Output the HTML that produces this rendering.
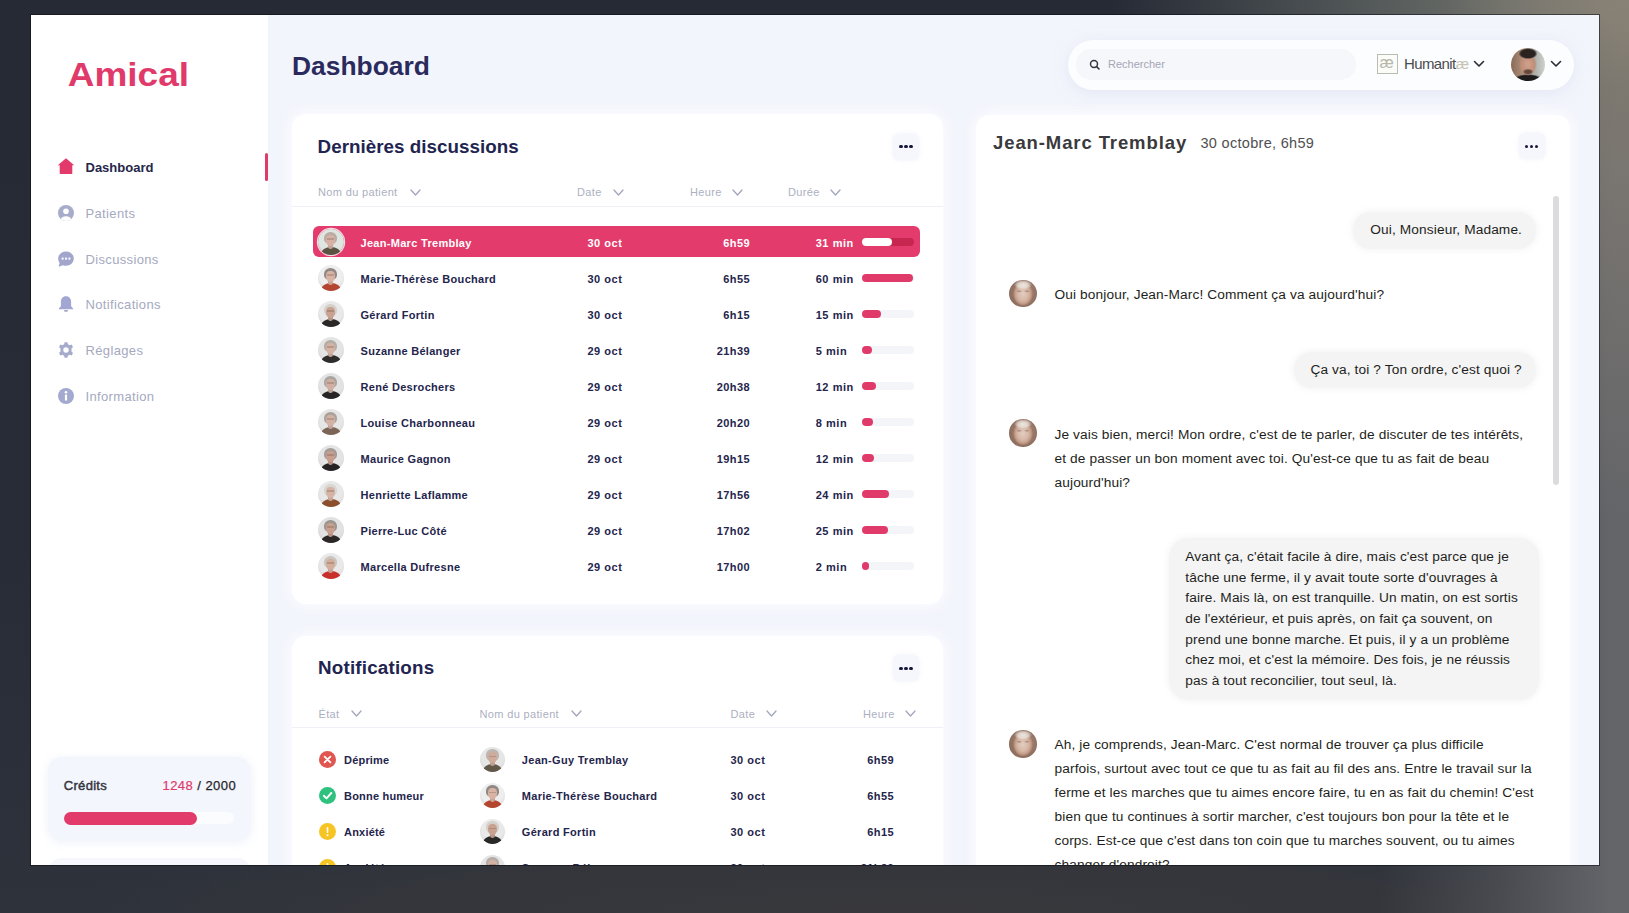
<!DOCTYPE html>
<html><head><meta charset="utf-8">
<style>
*{box-sizing:border-box;margin:0;padding:0}
html,body{width:1629px;height:913px;overflow:hidden}
body{font-family:"Liberation Sans",sans-serif;position:relative;
background:#262b36;}
.bg{position:absolute;left:0;top:0;width:1629px;height:913px;
background:
radial-gradient(ellipse 180px 520px at 1629px 0px, rgba(138,130,118,0.85), rgba(138,130,118,0) 100%),
radial-gradient(ellipse 520px 170px at 1629px 0px, rgba(128,126,117,1), rgba(92,98,96,0.85) 50%, rgba(60,65,75,0) 100%),
linear-gradient(90deg, rgba(98,99,103,0) 0px, rgba(98,99,103,0) 1380px, rgba(92,93,98,0.55) 1500px, rgba(100,101,105,1) 1610px),
radial-gradient(ellipse 850px 95px at 900px 913px, rgba(56,56,60,1), rgba(56,56,60,0.65) 60%, rgba(56,56,60,0) 100%),
linear-gradient(180deg,#252a35 0%,#272c37 60%,#2d323b 100%);}
.frame{position:absolute;left:31px;top:15px;width:1568px;height:850px;overflow:hidden;background:#f3f5fc;box-shadow:0 0 0 1px rgba(10,13,20,0.55)}
.pg{position:absolute;left:-31px;top:-15px;width:1629px;height:913px}
.abs{position:absolute}
.side{position:absolute;left:31px;top:15px;width:237px;height:850px;background:#fff}
.logo{position:absolute;left:67px;top:55px;line-height:40px;font-weight:bold;font-size:34px;color:#e03a6b;letter-spacing:2.2px}
.nav{position:absolute;left:85.5px;font-size:13px;color:#a5a9c0;letter-spacing:0.35px}
.nav.act{color:#25264a;font-weight:bold;letter-spacing:0}
.ico{position:absolute;left:57px;width:17px;height:17px}
.card{position:absolute;background:#fff;border-radius:14px;box-shadow:0 0 12px 3px rgba(252,252,255,0.95)}
.h2{position:absolute;font-weight:bold;font-size:19px;color:#25264f}
.th{position:absolute;font-size:11px;color:#a9acc4}
.chev{position:absolute;width:9px;height:6px}
.row{position:absolute;font-size:12px;font-weight:bold;color:#2c2d58}
.dots{position:absolute;width:27px;height:27px;border-radius:8px;background:#f6f7fb}
.dots i{position:absolute;top:12px;width:3.4px;height:3.4px;border-radius:50%;background:#1e1f3f}
.chat{font-size:14px;color:#1f1f22}
</style></head>
<body>
<div class="bg"></div>
<div class="frame"><div class="pg">
  <div class="side"></div>
  <svg class="abs" style="left:0;top:0" width="300" height="120"><text x="67.8" y="86" font-family="Liberation Sans" font-weight="bold" font-size="32.5" fill="#e03a6b" textLength="121.2" lengthAdjust="spacingAndGlyphs">Amical</text></svg>
  <div class="abs" style="left:265px;top:153px;width:3px;height:28px;background:#e03a6b;border-radius:2px"></div>

  <div class="abs" style="left:292px;top:51px;font-weight:bold;font-size:26.4px;color:#2a2b5c">Dashboard</div>


  <!-- NAV -->
  <svg class="abs" style="left:57px;top:157px" width="18" height="18" viewBox="0 0 18 18"><path d="M9 1.2 L17.2 8.2 L15.3 8.2 L15.3 16.3 Q15.3 17 14.6 17 L3.4 17 Q2.7 17 2.7 16.3 L2.7 8.2 L0.8 8.2 Z" fill="#e23a6b"/></svg>
  <div class="nav act" style="top:160px">Dashboard</div>
  <svg class="abs" style="left:58px;top:204.6px" width="16" height="16" viewBox="0 0 16 16"><defs><clipPath id="cp1"><circle cx="8" cy="8" r="8"/></clipPath></defs><circle cx="8" cy="8" r="8" fill="#a7acca"/><g clip-path="url(#cp1)" fill="#fff"><circle cx="8" cy="6.2" r="2.8"/><ellipse cx="8" cy="15.5" rx="5.6" ry="4.2"/></g></svg>
  <div class="nav" style="top:205.8px">Patients</div>
  <svg class="abs" style="left:58px;top:250.5px" width="16" height="16" viewBox="0 0 16 16"><path d="M8 0.4 C12.4 0.4 15.8 3.5 15.8 7.6 C15.8 11.7 12.4 14.8 8 14.8 C6.9 14.8 5.8 14.6 4.9 14.2 L1.4 15.6 Q0.6 15.8 0.8 15 L1.6 12 C0.7 10.8 0.2 9.3 0.2 7.6 C0.2 3.5 3.6 0.4 8 0.4Z" fill="#a2a6cd"/><rect x="3.6" y="6.6" width="2" height="2" fill="#fff"/><rect x="7" y="6.6" width="2" height="2" fill="#fff"/><rect x="10.4" y="6.6" width="2" height="2" fill="#fff"/></svg>
  <div class="nav" style="top:251.8px">Discussions</div>
  <svg class="abs" style="left:58px;top:296px" width="16" height="16" viewBox="0 0 16 16"><path d="M8 0.3 C4.6 0.3 2.9 2.8 2.9 5.8 L2.9 9.6 C2.9 10.6 2.2 11.4 1.2 12 Q0.7 12.4 0.9 12.9 Q1.1 13.3 1.7 13.3 L14.3 13.3 Q14.9 13.3 15.1 12.9 Q15.3 12.4 14.8 12 C13.8 11.4 13.1 10.6 13.1 9.6 L13.1 5.8 C13.1 2.8 11.4 0.3 8 0.3Z" fill="#a2a6d2"/><path d="M5.8 14 A2.2 2 0 0 0 10.2 14Z" fill="#a9adc8"/></svg>
  <div class="nav" style="top:297.3px">Notifications</div>
  <svg class="abs" style="left:58px;top:342px" width="16" height="16" viewBox="0 0 16 16"><path fill="#a6aacb" fill-rule="evenodd" d="M6.6 0.3 L9.4 0.3 L9.9 2.3 L11.6 3.2 L13.6 2.6 L15 5 L13.5 6.5 L13.5 9.5 L15 11 L13.6 13.4 L11.6 12.8 L9.9 13.7 L9.4 15.7 L6.6 15.7 L6.1 13.7 L4.4 12.8 L2.4 13.4 L1 11 L2.5 9.5 L2.5 6.5 L1 5 L2.4 2.6 L4.4 3.2 L6.1 2.3 Z M8 5.3 A2.7 2.7 0 1 0 8 10.7 A2.7 2.7 0 1 0 8 5.3Z"/></svg>
  <div class="nav" style="top:342.6px">Réglages</div>
  <svg class="abs" style="left:58px;top:387.8px" width="16" height="16" viewBox="0 0 16 16"><circle cx="8" cy="8" r="8" fill="#a4a9cf"/><rect x="6.9" y="6.6" width="2.2" height="6" rx="0.5" fill="#fff"/><circle cx="8" cy="4.3" r="1.3" fill="#fff"/></svg>
  <div class="nav" style="top:388.6px">Information</div>

  <!-- credits -->
  <div class="abs" style="left:48px;top:757px;width:203px;height:83px;border-radius:14px;background:#f3f6fc;box-shadow:0 2px 10px rgba(225,230,245,0.6)"></div>
  <div class="abs" style="left:63.8px;top:778px;font-size:13px;color:#33353f;-webkit-text-stroke:0.45px #33353f;letter-spacing:0.3px">Crédits</div>
  <div class="abs" style="left:162.5px;top:778px;font-size:13px;color:#24252d;letter-spacing:0.45px;-webkit-text-stroke:0.25px #24252d"><span style="color:#e03a6b;-webkit-text-stroke:0.2px #e03a6b">1248</span> / 2000</div>
  <div class="abs" style="left:64px;top:812px;width:170px;height:12px;border-radius:6px;background:#fbfcfe"></div>
  <div class="abs" style="left:64px;top:812px;width:133px;height:12.5px;border-radius:6.5px;background:#e23a6b"></div>
  <div class="abs" style="left:48px;top:858px;width:203px;height:40px;border-radius:14px;background:#f5f7fc"></div>

  <!-- header -->
  <div class="abs" style="left:1068px;top:40px;width:506px;height:50px;border-radius:25px;background:#fcfdfe;box-shadow:0 3px 14px rgba(215,220,238,0.55)"></div>
  <div class="abs" style="left:1076px;top:49px;width:280px;height:31px;border-radius:15px;background:#f6f7fb"></div>
  <svg class="abs" style="left:1089px;top:58.5px" width="12" height="12" viewBox="0 0 12 12"><circle cx="5" cy="5" r="3.5" fill="none" stroke="#34353f" stroke-width="1.45"/><path d="M7.6 7.6 L10 10" stroke="#34353f" stroke-width="1.6" stroke-linecap="round"/></svg>
  <div class="abs" style="left:1108px;top:58px;font-size:11px;color:#a3a6b3">Rechercher</div>
  <div class="abs" style="left:1376.5px;top:54.3px;width:21px;height:19.5px;border:1.3px solid #b9bbb4;background:#fbfbf8"></div>
  <div class="abs" style="left:1379.5px;top:54px;font-size:16px;color:#b5b7aa;">æ</div>
  <div class="abs" style="left:1404px;top:55px;font-size:15px;color:#4a4b4e;letter-spacing:-0.6px">Humanit<span style="color:#c8c4b4;">æ</span></div>
  <svg class="abs" style="left:1473px;top:60px" width="12" height="8" viewBox="0 0 12 8"><path d="M1.5 1.5 L6 6 L10.5 1.5" fill="none" stroke="#2a2b34" stroke-width="1.6" stroke-linecap="round" stroke-linejoin="round"/></svg>
  <div class="abs" style="left:1511px;top:47.5px;width:33.5px;height:33.5px;border-radius:50%;overflow:hidden;background:radial-gradient(ellipse 9.5px 5.5px at 50% 17%,#2b2320 0%,#2b2320 75%,rgba(43,35,32,0) 100%),radial-gradient(ellipse 5.5px 3px at 50% 72%,#5e4238 0%,#6e4c40 60%,rgba(110,76,64,0) 100%),radial-gradient(ellipse 9px 11.5px at 50% 50%,#d0a28c 0%,#c08e78 75%,rgba(160,110,90,0) 100%),radial-gradient(ellipse 16px 7px at 50% 100%,#1d1b1b 0%,#1d1b1b 80%,rgba(29,27,27,0) 100%),linear-gradient(90deg,#8a6a56 0%,#a88a76 30%,#aeb0ac 70%,#cfd1cd 100%)"></div>
  <svg class="abs" style="left:1550px;top:60px" width="12" height="8" viewBox="0 0 12 8"><path d="M1.5 1.5 L6 6 L10.5 1.5" fill="none" stroke="#2a2b34" stroke-width="1.6" stroke-linecap="round" stroke-linejoin="round"/></svg>

<div class="card" style="left:292px;top:114px;width:651px;height:490px"></div>
<div class="abs" style="left:317.6px;top:134.8px;line-height:24px;font-weight:bold;font-size:18.8px;color:#222450;letter-spacing:0.03px">Dernières discussions</div>
<div class="abs" style="left:893px;top:133.5px;width:26px;height:26px;border-radius:6px;background:#f6f7fc;box-shadow:0 0 4px rgba(235,237,246,0.8)"></div>
<div class="abs" style="left:899.4px;top:145.1px;width:3.2px;height:3.2px;border-radius:50%;background:#16173a"></div>
<div class="abs" style="left:904.4px;top:145.1px;width:3.2px;height:3.2px;border-radius:50%;background:#16173a"></div>
<div class="abs" style="left:909.4px;top:145.1px;width:3.2px;height:3.2px;border-radius:50%;background:#16173a"></div>
<div class="abs th" style="left:318px;top:186px;font-size:11px;color:#acafc1;letter-spacing:0.35px">Nom du patient</div>
<svg class="abs" style="left:410px;top:188.5px" width="11" height="7" viewBox="0 0 11 7"><path d="M1 1 L5.5 6 L10 1" fill="none" stroke="#a3a6bb" stroke-width="1.3" stroke-linecap="round" stroke-linejoin="round"/></svg>
<div class="abs th" style="left:577px;top:186px;font-size:11px;color:#acafc1;letter-spacing:0.35px">Date</div>
<svg class="abs" style="left:613px;top:188.5px" width="11" height="7" viewBox="0 0 11 7"><path d="M1 1 L5.5 6 L10 1" fill="none" stroke="#a3a6bb" stroke-width="1.3" stroke-linecap="round" stroke-linejoin="round"/></svg>
<div class="abs th" style="left:690px;top:186px;font-size:11px;color:#acafc1;letter-spacing:0.35px">Heure</div>
<svg class="abs" style="left:732px;top:188.5px" width="11" height="7" viewBox="0 0 11 7"><path d="M1 1 L5.5 6 L10 1" fill="none" stroke="#a3a6bb" stroke-width="1.3" stroke-linecap="round" stroke-linejoin="round"/></svg>
<div class="abs th" style="left:788px;top:186px;font-size:11px;color:#acafc1;letter-spacing:0.35px">Durée</div>
<svg class="abs" style="left:830px;top:188.5px" width="11" height="7" viewBox="0 0 11 7"><path d="M1 1 L5.5 6 L10 1" fill="none" stroke="#a3a6bb" stroke-width="1.3" stroke-linecap="round" stroke-linejoin="round"/></svg>
<div class="abs" style="left:292px;top:205.5px;width:651px;height:1px;background:#eff0f5"></div>
<div class="abs" style="left:312.5px;top:226.39999999999998px;width:607.5px;height:31px;border-radius:6px;background:#e33b6c"></div>
<div class="abs" style="left:317.6px;top:229.2px;width:26px;height:26px;border-radius:50%;overflow:hidden;background:radial-gradient(circle at 50% 40%,#dfe6e2 55%,#c9c9c9 100%);box-shadow:0 0 0 1.2px #f6dbe3;"><div style="position:absolute;left:3.0px;top:18.0px;width:20.0px;height:14.0px;border-radius:50% 50% 0 0;background:#5b5241"></div><div style="position:absolute;left:10.5px;top:14.0px;width:5.0px;height:6.0px;border-radius:0 0 50% 50%;background:#d7b2a4;filter:brightness(0.92)"></div><div style="position:absolute;left:6.6px;top:2.6px;width:12.8px;height:12.0px;border-radius:50% 50% 42% 42%;background:#b9aca4"></div><div style="position:absolute;left:8.3px;top:5.6px;width:9.4px;height:11.2px;border-radius:42% 42% 50% 50%;background:radial-gradient(ellipse at 50% 40%,#d7b2a4 50%,rgba(0,0,0,0.0) 100%),#d7b2a4"></div><div style="position:absolute;left:9.8px;top:9.2px;width:6.4px;height:1.2px;background:rgba(90,70,60,0.25)"></div></div>
<div class="abs" style="left:360.5px;top:237.09999999999997px;font-size:11px;font-weight:bold;color:#ffffff;letter-spacing:0.3px">Jean-Marc Tremblay</div>
<div class="abs" style="left:587.5px;top:237.09999999999997px;font-size:11px;font-weight:bold;color:#ffffff;letter-spacing:0.5px">30 oct</div>
<div class="abs" style="left:650px;width:100px;text-align:right;top:237.09999999999997px;font-size:11px;font-weight:bold;color:#ffffff;letter-spacing:0.4px">6h59</div>
<div class="abs" style="left:815.7px;top:237.09999999999997px;font-size:11px;font-weight:bold;color:#ffffff;letter-spacing:0.55px">31 min</div>
<div class="abs" style="left:862px;top:238.39999999999998px;width:51.5px;height:7.5px;border-radius:4px;background:#c62650"></div>
<div class="abs" style="left:862px;top:238.39999999999998px;width:30px;height:7.5px;border-radius:4px;background:#ffffff"></div>
<div class="abs" style="left:317.6px;top:265.2px;width:26px;height:26px;border-radius:50%;overflow:hidden;background:radial-gradient(circle at 50% 40%,#efeeee 55%,#c9c9c9 100%);"><div style="position:absolute;left:3.0px;top:18.0px;width:20.0px;height:14.0px;border-radius:50% 50% 0 0;background:#b4452f"></div><div style="position:absolute;left:10.5px;top:14.0px;width:5.0px;height:6.0px;border-radius:0 0 50% 50%;background:#d9b3a3;filter:brightness(0.92)"></div><div style="position:absolute;left:6.6px;top:2.6px;width:12.8px;height:12.0px;border-radius:50% 50% 42% 42%;background:#8f8884"></div><div style="position:absolute;left:8.3px;top:5.6px;width:9.4px;height:11.2px;border-radius:42% 42% 50% 50%;background:radial-gradient(ellipse at 50% 40%,#d9b3a3 50%,rgba(0,0,0,0.0) 100%),#d9b3a3"></div><div style="position:absolute;left:9.8px;top:9.2px;width:6.4px;height:1.2px;background:rgba(90,70,60,0.25)"></div></div>
<div class="abs" style="left:360.5px;top:273.09999999999997px;font-size:11px;font-weight:bold;color:#24254c;letter-spacing:0.3px">Marie-Thérèse Bouchard</div>
<div class="abs" style="left:587.5px;top:273.09999999999997px;font-size:11px;font-weight:bold;color:#24254c;letter-spacing:0.5px">30 oct</div>
<div class="abs" style="left:650px;width:100px;text-align:right;top:273.09999999999997px;font-size:11px;font-weight:bold;color:#24254c;letter-spacing:0.4px">6h55</div>
<div class="abs" style="left:815.7px;top:273.09999999999997px;font-size:11px;font-weight:bold;color:#24254c;letter-spacing:0.55px">60 min</div>
<div class="abs" style="left:862px;top:274.4px;width:51.5px;height:7.5px;border-radius:4px;background:#f4f5f9"></div>
<div class="abs" style="left:862px;top:274.4px;width:51px;height:7.5px;border-radius:4px;background:#e03a6a"></div>
<div class="abs" style="left:317.6px;top:301.2px;width:26px;height:26px;border-radius:50%;overflow:hidden;background:radial-gradient(circle at 50% 40%,#e9e9e9 55%,#c9c9c9 100%);"><div style="position:absolute;left:3.0px;top:18.0px;width:20.0px;height:14.0px;border-radius:50% 50% 0 0;background:#2a2827"></div><div style="position:absolute;left:10.5px;top:14.0px;width:5.0px;height:6.0px;border-radius:0 0 50% 50%;background:#c9a291;filter:brightness(0.92)"></div><div style="position:absolute;left:6.6px;top:2.6px;width:12.8px;height:12.0px;border-radius:50% 50% 42% 42%;background:#d4d0cc"></div><div style="position:absolute;left:8.3px;top:5.6px;width:9.4px;height:11.2px;border-radius:42% 42% 50% 50%;background:radial-gradient(ellipse at 50% 40%,#c9a291 50%,rgba(0,0,0,0.0) 100%),#c9a291"></div><div style="position:absolute;left:9.8px;top:9.2px;width:6.4px;height:1.2px;background:rgba(90,70,60,0.25)"></div></div>
<div class="abs" style="left:360.5px;top:309.09999999999997px;font-size:11px;font-weight:bold;color:#24254c;letter-spacing:0.3px">Gérard Fortin</div>
<div class="abs" style="left:587.5px;top:309.09999999999997px;font-size:11px;font-weight:bold;color:#24254c;letter-spacing:0.5px">30 oct</div>
<div class="abs" style="left:650px;width:100px;text-align:right;top:309.09999999999997px;font-size:11px;font-weight:bold;color:#24254c;letter-spacing:0.4px">6h15</div>
<div class="abs" style="left:815.7px;top:309.09999999999997px;font-size:11px;font-weight:bold;color:#24254c;letter-spacing:0.55px">15 min</div>
<div class="abs" style="left:862px;top:310.4px;width:51.5px;height:7.5px;border-radius:4px;background:#f4f5f9"></div>
<div class="abs" style="left:862px;top:310.4px;width:19px;height:7.5px;border-radius:4px;background:#e03a6a"></div>
<div class="abs" style="left:317.6px;top:337.2px;width:26px;height:26px;border-radius:50%;overflow:hidden;background:radial-gradient(circle at 50% 40%,#e4e4e4 55%,#c9c9c9 100%);"><div style="position:absolute;left:3.0px;top:18.0px;width:20.0px;height:14.0px;border-radius:50% 50% 0 0;background:#2f2d2c"></div><div style="position:absolute;left:10.5px;top:14.0px;width:5.0px;height:6.0px;border-radius:0 0 50% 50%;background:#d4b3a5;filter:brightness(0.92)"></div><div style="position:absolute;left:6.6px;top:2.6px;width:12.8px;height:12.0px;border-radius:50% 50% 42% 42%;background:#b3ada6"></div><div style="position:absolute;left:8.3px;top:5.6px;width:9.4px;height:11.2px;border-radius:42% 42% 50% 50%;background:radial-gradient(ellipse at 50% 40%,#d4b3a5 50%,rgba(0,0,0,0.0) 100%),#d4b3a5"></div><div style="position:absolute;left:9.8px;top:9.2px;width:6.4px;height:1.2px;background:rgba(90,70,60,0.25)"></div></div>
<div class="abs" style="left:360.5px;top:345.09999999999997px;font-size:11px;font-weight:bold;color:#24254c;letter-spacing:0.3px">Suzanne Bélanger</div>
<div class="abs" style="left:587.5px;top:345.09999999999997px;font-size:11px;font-weight:bold;color:#24254c;letter-spacing:0.5px">29 oct</div>
<div class="abs" style="left:650px;width:100px;text-align:right;top:345.09999999999997px;font-size:11px;font-weight:bold;color:#24254c;letter-spacing:0.4px">21h39</div>
<div class="abs" style="left:815.7px;top:345.09999999999997px;font-size:11px;font-weight:bold;color:#24254c;letter-spacing:0.55px">5 min</div>
<div class="abs" style="left:862px;top:346.4px;width:51.5px;height:7.5px;border-radius:4px;background:#f4f5f9"></div>
<div class="abs" style="left:862px;top:346.4px;width:9.5px;height:7.5px;border-radius:4px;background:#e03a6a"></div>
<div class="abs" style="left:317.6px;top:373.2px;width:26px;height:26px;border-radius:50%;overflow:hidden;background:radial-gradient(circle at 50% 40%,#e3e3e3 55%,#c9c9c9 100%);"><div style="position:absolute;left:3.0px;top:18.0px;width:20.0px;height:14.0px;border-radius:50% 50% 0 0;background:#262424"></div><div style="position:absolute;left:10.5px;top:14.0px;width:5.0px;height:6.0px;border-radius:0 0 50% 50%;background:#d0afa2;filter:brightness(0.92)"></div><div style="position:absolute;left:6.6px;top:2.6px;width:12.8px;height:12.0px;border-radius:50% 50% 42% 42%;background:#a9a5a2"></div><div style="position:absolute;left:8.3px;top:5.6px;width:9.4px;height:11.2px;border-radius:42% 42% 50% 50%;background:radial-gradient(ellipse at 50% 40%,#d0afa2 50%,rgba(0,0,0,0.0) 100%),#d0afa2"></div><div style="position:absolute;left:9.8px;top:9.2px;width:6.4px;height:1.2px;background:rgba(90,70,60,0.25)"></div></div>
<div class="abs" style="left:360.5px;top:381.09999999999997px;font-size:11px;font-weight:bold;color:#24254c;letter-spacing:0.3px">René Desrochers</div>
<div class="abs" style="left:587.5px;top:381.09999999999997px;font-size:11px;font-weight:bold;color:#24254c;letter-spacing:0.5px">29 oct</div>
<div class="abs" style="left:650px;width:100px;text-align:right;top:381.09999999999997px;font-size:11px;font-weight:bold;color:#24254c;letter-spacing:0.4px">20h38</div>
<div class="abs" style="left:815.7px;top:381.09999999999997px;font-size:11px;font-weight:bold;color:#24254c;letter-spacing:0.55px">12 min</div>
<div class="abs" style="left:862px;top:382.4px;width:51.5px;height:7.5px;border-radius:4px;background:#f4f5f9"></div>
<div class="abs" style="left:862px;top:382.4px;width:14px;height:7.5px;border-radius:4px;background:#e03a6a"></div>
<div class="abs" style="left:317.6px;top:409.2px;width:26px;height:26px;border-radius:50%;overflow:hidden;background:radial-gradient(circle at 50% 40%,#e6e6e6 55%,#c9c9c9 100%);"><div style="position:absolute;left:3.0px;top:18.0px;width:20.0px;height:14.0px;border-radius:50% 50% 0 0;background:#7c6557"></div><div style="position:absolute;left:10.5px;top:14.0px;width:5.0px;height:6.0px;border-radius:0 0 50% 50%;background:#d3b2a6;filter:brightness(0.92)"></div><div style="position:absolute;left:6.6px;top:2.6px;width:12.8px;height:12.0px;border-radius:50% 50% 42% 42%;background:#aaa39c"></div><div style="position:absolute;left:8.3px;top:5.6px;width:9.4px;height:11.2px;border-radius:42% 42% 50% 50%;background:radial-gradient(ellipse at 50% 40%,#d3b2a6 50%,rgba(0,0,0,0.0) 100%),#d3b2a6"></div><div style="position:absolute;left:9.8px;top:9.2px;width:6.4px;height:1.2px;background:rgba(90,70,60,0.25)"></div></div>
<div class="abs" style="left:360.5px;top:417.09999999999997px;font-size:11px;font-weight:bold;color:#24254c;letter-spacing:0.3px">Louise Charbonneau</div>
<div class="abs" style="left:587.5px;top:417.09999999999997px;font-size:11px;font-weight:bold;color:#24254c;letter-spacing:0.5px">29 oct</div>
<div class="abs" style="left:650px;width:100px;text-align:right;top:417.09999999999997px;font-size:11px;font-weight:bold;color:#24254c;letter-spacing:0.4px">20h20</div>
<div class="abs" style="left:815.7px;top:417.09999999999997px;font-size:11px;font-weight:bold;color:#24254c;letter-spacing:0.55px">8 min</div>
<div class="abs" style="left:862px;top:418.4px;width:51.5px;height:7.5px;border-radius:4px;background:#f4f5f9"></div>
<div class="abs" style="left:862px;top:418.4px;width:11px;height:7.5px;border-radius:4px;background:#e03a6a"></div>
<div class="abs" style="left:317.6px;top:445.2px;width:26px;height:26px;border-radius:50%;overflow:hidden;background:radial-gradient(circle at 50% 40%,#e4e4e4 55%,#c9c9c9 100%);"><div style="position:absolute;left:3.0px;top:18.0px;width:20.0px;height:14.0px;border-radius:50% 50% 0 0;background:#262324"></div><div style="position:absolute;left:10.5px;top:14.0px;width:5.0px;height:6.0px;border-radius:0 0 50% 50%;background:#c79e8f;filter:brightness(0.92)"></div><div style="position:absolute;left:6.6px;top:2.6px;width:12.8px;height:12.0px;border-radius:50% 50% 42% 42%;background:#a29c98"></div><div style="position:absolute;left:8.3px;top:5.6px;width:9.4px;height:11.2px;border-radius:42% 42% 50% 50%;background:radial-gradient(ellipse at 50% 40%,#c79e8f 50%,rgba(0,0,0,0.0) 100%),#c79e8f"></div><div style="position:absolute;left:9.8px;top:9.2px;width:6.4px;height:1.2px;background:rgba(90,70,60,0.25)"></div></div>
<div class="abs" style="left:360.5px;top:453.09999999999997px;font-size:11px;font-weight:bold;color:#24254c;letter-spacing:0.3px">Maurice Gagnon</div>
<div class="abs" style="left:587.5px;top:453.09999999999997px;font-size:11px;font-weight:bold;color:#24254c;letter-spacing:0.5px">29 oct</div>
<div class="abs" style="left:650px;width:100px;text-align:right;top:453.09999999999997px;font-size:11px;font-weight:bold;color:#24254c;letter-spacing:0.4px">19h15</div>
<div class="abs" style="left:815.7px;top:453.09999999999997px;font-size:11px;font-weight:bold;color:#24254c;letter-spacing:0.55px">12 min</div>
<div class="abs" style="left:862px;top:454.4px;width:51.5px;height:7.5px;border-radius:4px;background:#f4f5f9"></div>
<div class="abs" style="left:862px;top:454.4px;width:12px;height:7.5px;border-radius:4px;background:#e03a6a"></div>
<div class="abs" style="left:317.6px;top:481.2px;width:26px;height:26px;border-radius:50%;overflow:hidden;background:radial-gradient(circle at 50% 40%,#e8e8e8 55%,#c9c9c9 100%);"><div style="position:absolute;left:3.0px;top:18.0px;width:20.0px;height:14.0px;border-radius:50% 50% 0 0;background:#8c4f2c"></div><div style="position:absolute;left:10.5px;top:14.0px;width:5.0px;height:6.0px;border-radius:0 0 50% 50%;background:#d6b4a5;filter:brightness(0.92)"></div><div style="position:absolute;left:6.6px;top:2.6px;width:12.8px;height:12.0px;border-radius:50% 50% 42% 42%;background:#d8d6d3"></div><div style="position:absolute;left:8.3px;top:5.6px;width:9.4px;height:11.2px;border-radius:42% 42% 50% 50%;background:radial-gradient(ellipse at 50% 40%,#d6b4a5 50%,rgba(0,0,0,0.0) 100%),#d6b4a5"></div><div style="position:absolute;left:9.8px;top:9.2px;width:6.4px;height:1.2px;background:rgba(90,70,60,0.25)"></div></div>
<div class="abs" style="left:360.5px;top:489.09999999999997px;font-size:11px;font-weight:bold;color:#24254c;letter-spacing:0.3px">Henriette Laflamme</div>
<div class="abs" style="left:587.5px;top:489.09999999999997px;font-size:11px;font-weight:bold;color:#24254c;letter-spacing:0.5px">29 oct</div>
<div class="abs" style="left:650px;width:100px;text-align:right;top:489.09999999999997px;font-size:11px;font-weight:bold;color:#24254c;letter-spacing:0.4px">17h56</div>
<div class="abs" style="left:815.7px;top:489.09999999999997px;font-size:11px;font-weight:bold;color:#24254c;letter-spacing:0.55px">24 min</div>
<div class="abs" style="left:862px;top:490.4px;width:51.5px;height:7.5px;border-radius:4px;background:#f4f5f9"></div>
<div class="abs" style="left:862px;top:490.4px;width:27px;height:7.5px;border-radius:4px;background:#e03a6a"></div>
<div class="abs" style="left:317.6px;top:517.2px;width:26px;height:26px;border-radius:50%;overflow:hidden;background:radial-gradient(circle at 50% 40%,#e2e2e2 55%,#c9c9c9 100%);"><div style="position:absolute;left:3.0px;top:18.0px;width:20.0px;height:14.0px;border-radius:50% 50% 0 0;background:#2a2726"></div><div style="position:absolute;left:10.5px;top:14.0px;width:5.0px;height:6.0px;border-radius:0 0 50% 50%;background:#c8a08f;filter:brightness(0.92)"></div><div style="position:absolute;left:6.6px;top:2.6px;width:12.8px;height:12.0px;border-radius:50% 50% 42% 42%;background:#9a9591"></div><div style="position:absolute;left:8.3px;top:5.6px;width:9.4px;height:11.2px;border-radius:42% 42% 50% 50%;background:radial-gradient(ellipse at 50% 40%,#c8a08f 50%,rgba(0,0,0,0.0) 100%),#c8a08f"></div><div style="position:absolute;left:9.8px;top:9.2px;width:6.4px;height:1.2px;background:rgba(90,70,60,0.25)"></div></div>
<div class="abs" style="left:360.5px;top:525.1000000000001px;font-size:11px;font-weight:bold;color:#24254c;letter-spacing:0.3px">Pierre-Luc Côté</div>
<div class="abs" style="left:587.5px;top:525.1000000000001px;font-size:11px;font-weight:bold;color:#24254c;letter-spacing:0.5px">29 oct</div>
<div class="abs" style="left:650px;width:100px;text-align:right;top:525.1000000000001px;font-size:11px;font-weight:bold;color:#24254c;letter-spacing:0.4px">17h02</div>
<div class="abs" style="left:815.7px;top:525.1000000000001px;font-size:11px;font-weight:bold;color:#24254c;letter-spacing:0.55px">25 min</div>
<div class="abs" style="left:862px;top:526.4000000000001px;width:51.5px;height:7.5px;border-radius:4px;background:#f4f5f9"></div>
<div class="abs" style="left:862px;top:526.4000000000001px;width:25.6px;height:7.5px;border-radius:4px;background:#e03a6a"></div>
<div class="abs" style="left:317.6px;top:553.2px;width:26px;height:26px;border-radius:50%;overflow:hidden;background:radial-gradient(circle at 50% 40%,#e9e9e9 55%,#c9c9c9 100%);"><div style="position:absolute;left:3.0px;top:18.0px;width:20.0px;height:14.0px;border-radius:50% 50% 0 0;background:#c9302c"></div><div style="position:absolute;left:10.5px;top:14.0px;width:5.0px;height:6.0px;border-radius:0 0 50% 50%;background:#d4ae9c;filter:brightness(0.92)"></div><div style="position:absolute;left:6.6px;top:2.6px;width:12.8px;height:12.0px;border-radius:50% 50% 42% 42%;background:#c9c4be"></div><div style="position:absolute;left:8.3px;top:5.6px;width:9.4px;height:11.2px;border-radius:42% 42% 50% 50%;background:radial-gradient(ellipse at 50% 40%,#d4ae9c 50%,rgba(0,0,0,0.0) 100%),#d4ae9c"></div><div style="position:absolute;left:9.8px;top:9.2px;width:6.4px;height:1.2px;background:rgba(90,70,60,0.25)"></div></div>
<div class="abs" style="left:360.5px;top:561.1000000000001px;font-size:11px;font-weight:bold;color:#24254c;letter-spacing:0.3px">Marcella Dufresne</div>
<div class="abs" style="left:587.5px;top:561.1000000000001px;font-size:11px;font-weight:bold;color:#24254c;letter-spacing:0.5px">29 oct</div>
<div class="abs" style="left:650px;width:100px;text-align:right;top:561.1000000000001px;font-size:11px;font-weight:bold;color:#24254c;letter-spacing:0.4px">17h00</div>
<div class="abs" style="left:815.7px;top:561.1000000000001px;font-size:11px;font-weight:bold;color:#24254c;letter-spacing:0.55px">2 min</div>
<div class="abs" style="left:862px;top:562.4000000000001px;width:51.5px;height:7.5px;border-radius:4px;background:#f4f5f9"></div>
<div class="abs" style="left:862px;top:562.4000000000001px;width:7px;height:7.5px;border-radius:4px;background:#e03a6a"></div>
<div class="card" style="left:292px;top:636px;width:651px;height:300px"></div>
<div class="abs" style="left:318px;top:656.4px;line-height:24px;font-weight:bold;font-size:18.8px;color:#222450;letter-spacing:0.2px">Notifications</div>
<div class="abs" style="left:893px;top:655px;width:26px;height:26px;border-radius:6px;background:#f6f7fc;box-shadow:0 0 4px rgba(235,237,246,0.8)"></div>
<div class="abs" style="left:899.4px;top:666.6px;width:3.2px;height:3.2px;border-radius:50%;background:#16173a"></div>
<div class="abs" style="left:904.4px;top:666.6px;width:3.2px;height:3.2px;border-radius:50%;background:#16173a"></div>
<div class="abs" style="left:909.4px;top:666.6px;width:3.2px;height:3.2px;border-radius:50%;background:#16173a"></div>
<div class="abs th" style="left:318.5px;top:707.5px;font-size:11px;color:#acafc1;letter-spacing:0.35px">État</div>
<svg class="abs" style="left:351px;top:710px" width="11" height="7" viewBox="0 0 11 7"><path d="M1 1 L5.5 6 L10 1" fill="none" stroke="#a3a6bb" stroke-width="1.3" stroke-linecap="round" stroke-linejoin="round"/></svg>
<div class="abs th" style="left:479.5px;top:707.5px;font-size:11px;color:#acafc1;letter-spacing:0.35px">Nom du patient</div>
<svg class="abs" style="left:571px;top:710px" width="11" height="7" viewBox="0 0 11 7"><path d="M1 1 L5.5 6 L10 1" fill="none" stroke="#a3a6bb" stroke-width="1.3" stroke-linecap="round" stroke-linejoin="round"/></svg>
<div class="abs th" style="left:730.5px;top:707.5px;font-size:11px;color:#acafc1;letter-spacing:0.35px">Date</div>
<svg class="abs" style="left:766px;top:710px" width="11" height="7" viewBox="0 0 11 7"><path d="M1 1 L5.5 6 L10 1" fill="none" stroke="#a3a6bb" stroke-width="1.3" stroke-linecap="round" stroke-linejoin="round"/></svg>
<div class="abs th" style="left:863px;top:707.5px;font-size:11px;color:#acafc1;letter-spacing:0.35px">Heure</div>
<svg class="abs" style="left:905px;top:710px" width="11" height="7" viewBox="0 0 11 7"><path d="M1 1 L5.5 6 L10 1" fill="none" stroke="#a3a6bb" stroke-width="1.3" stroke-linecap="round" stroke-linejoin="round"/></svg>
<div class="abs" style="left:292px;top:726.5px;width:651px;height:1px;background:#eff0f5"></div>
<svg class="abs" style="left:318.5px;top:750.8px" width="17" height="17" viewBox="0 0 17 17"><circle cx="8.5" cy="8.5" r="8.5" fill="#e0574f"/><path d="M5.6 5.6 L11.4 11.4 M11.4 5.6 L5.6 11.4" stroke="#fff" stroke-width="1.8" stroke-linecap="round"/></svg>
<div class="abs" style="left:344px;top:754.2px;font-size:11px;font-weight:bold;color:#24254c;letter-spacing:0.2px">Déprime</div>
<div class="abs" style="left:480.0px;top:746.8px;width:25px;height:25px;border-radius:50%;overflow:hidden;background:radial-gradient(circle at 50% 40%,#e6e6e6 55%,#c9c9c9 100%);"><div style="position:absolute;left:2.8846153846153846px;top:17.307692307692307px;width:19.23076923076923px;height:13.461538461538462px;border-radius:50% 50% 0 0;background:#62584a"></div><div style="position:absolute;left:10.096153846153847px;top:13.461538461538462px;width:4.8076923076923075px;height:5.769230769230769px;border-radius:0 0 50% 50%;background:#cfab9c;filter:brightness(0.92)"></div><div style="position:absolute;left:6.346153846153846px;top:2.5px;width:12.307692307692308px;height:11.538461538461538px;border-radius:50% 50% 42% 42%;background:#bdb6b0"></div><div style="position:absolute;left:7.980769230769232px;top:5.384615384615384px;width:9.038461538461538px;height:10.769230769230768px;border-radius:42% 42% 50% 50%;background:radial-gradient(ellipse at 50% 40%,#cfab9c 50%,rgba(0,0,0,0.0) 100%),#cfab9c"></div><div style="position:absolute;left:9.423076923076923px;top:8.846153846153845px;width:6.153846153846154px;height:1.1538461538461537px;background:rgba(90,70,60,0.25)"></div></div>
<div class="abs" style="left:521.8px;top:754.2px;font-size:11px;font-weight:bold;color:#24254c;letter-spacing:0.3px">Jean-Guy Tremblay</div>
<div class="abs" style="left:730.5px;top:754.2px;font-size:11px;font-weight:bold;color:#24254c;letter-spacing:0.5px">30 oct</div>
<div class="abs" style="left:794px;width:100px;text-align:right;top:754.2px;font-size:11px;font-weight:bold;color:#24254c;letter-spacing:0.4px">6h59</div>
<svg class="abs" style="left:318.5px;top:786.8px" width="17" height="17" viewBox="0 0 17 17"><circle cx="8.5" cy="8.5" r="8.5" fill="#2ec27e"/><path d="M4.8 8.8 L7.5 11.4 L12.3 6" fill="none" stroke="#fff" stroke-width="1.9" stroke-linecap="round" stroke-linejoin="round"/></svg>
<div class="abs" style="left:344px;top:790.2px;font-size:11px;font-weight:bold;color:#24254c;letter-spacing:0.2px">Bonne humeur</div>
<div class="abs" style="left:480.0px;top:782.8px;width:25px;height:25px;border-radius:50%;overflow:hidden;background:radial-gradient(circle at 50% 40%,#efeeee 55%,#c9c9c9 100%);"><div style="position:absolute;left:2.8846153846153846px;top:17.307692307692307px;width:19.23076923076923px;height:13.461538461538462px;border-radius:50% 50% 0 0;background:#b4452f"></div><div style="position:absolute;left:10.096153846153847px;top:13.461538461538462px;width:4.8076923076923075px;height:5.769230769230769px;border-radius:0 0 50% 50%;background:#d9b3a3;filter:brightness(0.92)"></div><div style="position:absolute;left:6.346153846153846px;top:2.5px;width:12.307692307692308px;height:11.538461538461538px;border-radius:50% 50% 42% 42%;background:#8f8884"></div><div style="position:absolute;left:7.980769230769232px;top:5.384615384615384px;width:9.038461538461538px;height:10.769230769230768px;border-radius:42% 42% 50% 50%;background:radial-gradient(ellipse at 50% 40%,#d9b3a3 50%,rgba(0,0,0,0.0) 100%),#d9b3a3"></div><div style="position:absolute;left:9.423076923076923px;top:8.846153846153845px;width:6.153846153846154px;height:1.1538461538461537px;background:rgba(90,70,60,0.25)"></div></div>
<div class="abs" style="left:521.8px;top:790.2px;font-size:11px;font-weight:bold;color:#24254c;letter-spacing:0.3px">Marie-Thérèse Bouchard</div>
<div class="abs" style="left:730.5px;top:790.2px;font-size:11px;font-weight:bold;color:#24254c;letter-spacing:0.5px">30 oct</div>
<div class="abs" style="left:794px;width:100px;text-align:right;top:790.2px;font-size:11px;font-weight:bold;color:#24254c;letter-spacing:0.4px">6h55</div>
<svg class="abs" style="left:318.5px;top:822.8px" width="17" height="17" viewBox="0 0 17 17"><circle cx="8.5" cy="8.5" r="8.5" fill="#f6c523"/><rect x="7.7" y="4" width="1.6" height="6" rx="0.8" fill="#fff"/><circle cx="8.5" cy="12.3" r="1" fill="#fff"/></svg>
<div class="abs" style="left:344px;top:826.2px;font-size:11px;font-weight:bold;color:#24254c;letter-spacing:0.2px">Anxiété</div>
<div class="abs" style="left:480.0px;top:818.8px;width:25px;height:25px;border-radius:50%;overflow:hidden;background:radial-gradient(circle at 50% 40%,#e9e9e9 55%,#c9c9c9 100%);"><div style="position:absolute;left:2.8846153846153846px;top:17.307692307692307px;width:19.23076923076923px;height:13.461538461538462px;border-radius:50% 50% 0 0;background:#2a2827"></div><div style="position:absolute;left:10.096153846153847px;top:13.461538461538462px;width:4.8076923076923075px;height:5.769230769230769px;border-radius:0 0 50% 50%;background:#c9a291;filter:brightness(0.92)"></div><div style="position:absolute;left:6.346153846153846px;top:2.5px;width:12.307692307692308px;height:11.538461538461538px;border-radius:50% 50% 42% 42%;background:#d4d0cc"></div><div style="position:absolute;left:7.980769230769232px;top:5.384615384615384px;width:9.038461538461538px;height:10.769230769230768px;border-radius:42% 42% 50% 50%;background:radial-gradient(ellipse at 50% 40%,#c9a291 50%,rgba(0,0,0,0.0) 100%),#c9a291"></div><div style="position:absolute;left:9.423076923076923px;top:8.846153846153845px;width:6.153846153846154px;height:1.1538461538461537px;background:rgba(90,70,60,0.25)"></div></div>
<div class="abs" style="left:521.8px;top:826.2px;font-size:11px;font-weight:bold;color:#24254c;letter-spacing:0.3px">Gérard Fortin</div>
<div class="abs" style="left:730.5px;top:826.2px;font-size:11px;font-weight:bold;color:#24254c;letter-spacing:0.5px">30 oct</div>
<div class="abs" style="left:794px;width:100px;text-align:right;top:826.2px;font-size:11px;font-weight:bold;color:#24254c;letter-spacing:0.4px">6h15</div>
<svg class="abs" style="left:318.5px;top:858.8px" width="17" height="17" viewBox="0 0 17 17"><circle cx="8.5" cy="8.5" r="8.5" fill="#f6c523"/><rect x="7.7" y="4" width="1.6" height="6" rx="0.8" fill="#fff"/><circle cx="8.5" cy="12.3" r="1" fill="#fff"/></svg>
<div class="abs" style="left:344px;top:862.2px;font-size:11px;font-weight:bold;color:#24254c;letter-spacing:0.2px">Anxiété</div>
<div class="abs" style="left:480.0px;top:854.8px;width:25px;height:25px;border-radius:50%;overflow:hidden;background:radial-gradient(circle at 50% 40%,#e4e4e4 55%,#c9c9c9 100%);"><div style="position:absolute;left:2.8846153846153846px;top:17.307692307692307px;width:19.23076923076923px;height:13.461538461538462px;border-radius:50% 50% 0 0;background:#2f2d2c"></div><div style="position:absolute;left:10.096153846153847px;top:13.461538461538462px;width:4.8076923076923075px;height:5.769230769230769px;border-radius:0 0 50% 50%;background:#d4b3a5;filter:brightness(0.92)"></div><div style="position:absolute;left:6.346153846153846px;top:2.5px;width:12.307692307692308px;height:11.538461538461538px;border-radius:50% 50% 42% 42%;background:#b3ada6"></div><div style="position:absolute;left:7.980769230769232px;top:5.384615384615384px;width:9.038461538461538px;height:10.769230769230768px;border-radius:42% 42% 50% 50%;background:radial-gradient(ellipse at 50% 40%,#d4b3a5 50%,rgba(0,0,0,0.0) 100%),#d4b3a5"></div><div style="position:absolute;left:9.423076923076923px;top:8.846153846153845px;width:6.153846153846154px;height:1.1538461538461537px;background:rgba(90,70,60,0.25)"></div></div>
<div class="abs" style="left:521.8px;top:862.2px;font-size:11px;font-weight:bold;color:#24254c;letter-spacing:0.3px">Suzanne Bélanger</div>
<div class="abs" style="left:730.5px;top:862.2px;font-size:11px;font-weight:bold;color:#24254c;letter-spacing:0.5px">29 oct</div>
<div class="abs" style="left:794px;width:100px;text-align:right;top:862.2px;font-size:11px;font-weight:bold;color:#24254c;letter-spacing:0.4px">21h39</div>
<div class="card" style="left:976px;top:115px;width:594px;height:820px"></div>
<div class="abs" style="left:993px;top:132px;font-weight:bold;font-size:18.5px;color:#3a3a3c;letter-spacing:0.9px">Jean-Marc Tremblay</div>
<div class="abs" style="left:1200.5px;top:135px;font-size:14.5px;color:#4f4f52;letter-spacing:0.3px">30 octobre, 6h59</div>
<div class="abs" style="left:1518.8px;top:133px;width:26px;height:26px;border-radius:6px;background:#f6f7fc;box-shadow:0 0 4px rgba(235,237,246,0.8)"></div>
<div class="abs" style="left:1525.2px;top:144.6px;width:3.2px;height:3.2px;border-radius:50%;background:#16173a"></div>
<div class="abs" style="left:1530.2px;top:144.6px;width:3.2px;height:3.2px;border-radius:50%;background:#16173a"></div>
<div class="abs" style="left:1535.2px;top:144.6px;width:3.2px;height:3.2px;border-radius:50%;background:#16173a"></div>
<div class="abs" style="left:1553px;top:196px;width:5.5px;height:289px;border-radius:3px;background:#dcdcde"></div>
<div class="abs" style="left:1352.5px;top:211.5px;width:183.5px;height:37.0px;border-radius:18px;background:#f4f4f5;box-shadow:0 0 6px 1px rgba(242,242,244,0.9)"></div>
<div class="abs" style="left:1370.3px;top:220.15px;font-size:13.7px;color:#1e1e20;letter-spacing:0.12px;line-height:20px">Oui, Monsieur, Madame.</div>
<div class="abs" style="left:1009.2px;top:279.59999999999997px;width:27.6px;height:27.6px;border-radius:50%;background:radial-gradient(ellipse 9px 5px at 50% 18%,rgba(238,234,228,0.95) 0%,rgba(238,234,228,0.7) 60%,rgba(238,234,228,0) 100%),radial-gradient(ellipse 3px 1.3px at 36% 42%,rgba(120,90,80,0.6),rgba(120,90,80,0)),radial-gradient(ellipse 3px 1.3px at 64% 42%,rgba(120,90,80,0.6),rgba(120,90,80,0)),radial-gradient(ellipse 10px 12px at 50% 52%,#e2cdc0 0%,#d6b7a6 55%,#c49c88 80%,rgba(150,115,98,0) 100%),radial-gradient(circle at 55% 45%,#a8887a 0%,#8a6a5a 80%,#5e4438 100%)"></div>
<div class="abs" style="left:1054.5px;top:284.85px;font-size:13.7px;color:#1e1e20;letter-spacing:0.12px;line-height:20px">Oui bonjour, Jean-Marc! Comment ça va aujourd'hui?</div>
<div class="abs" style="left:1294px;top:351.5px;width:241.5px;height:36.5px;border-radius:18px;background:#f4f4f5;box-shadow:0 0 6px 1px rgba(242,242,244,0.9)"></div>
<div class="abs" style="left:1310.4px;top:359.75px;font-size:13.7px;color:#1e1e20;letter-spacing:0.12px;line-height:20px">Ça va, toi ? Ton ordre, c'est quoi ?</div>
<div class="abs" style="left:1009.2px;top:419.2px;width:27.6px;height:27.6px;border-radius:50%;background:radial-gradient(ellipse 9px 5px at 50% 18%,rgba(238,234,228,0.95) 0%,rgba(238,234,228,0.7) 60%,rgba(238,234,228,0) 100%),radial-gradient(ellipse 3px 1.3px at 36% 42%,rgba(120,90,80,0.6),rgba(120,90,80,0)),radial-gradient(ellipse 3px 1.3px at 64% 42%,rgba(120,90,80,0.6),rgba(120,90,80,0)),radial-gradient(ellipse 10px 12px at 50% 52%,#e2cdc0 0%,#d6b7a6 55%,#c49c88 80%,rgba(150,115,98,0) 100%),radial-gradient(circle at 55% 45%,#a8887a 0%,#8a6a5a 80%,#5e4438 100%)"></div>
<div class="abs" style="left:1054.5px;top:422.85px;font-size:13.7px;color:#1e1e20;letter-spacing:0.12px;line-height:24px">Je vais bien, merci! Mon ordre, c'est de te parler, de discuter de tes intérêts,<br>et de passer un bon moment avec toi. Qu'est-ce que tu as fait de beau<br>aujourd'hui?</div>
<div class="abs" style="left:1169px;top:537.5px;width:370px;height:162.5px;border-radius:20px;background:#f4f4f5;box-shadow:0 0 6px 1px rgba(242,242,244,0.9)"></div>
<div class="abs" style="left:1185.3px;top:547.24px;font-size:13.7px;color:#1e1e20;letter-spacing:0.12px;line-height:20.62px">Avant ça, c'était facile à dire, mais c'est parce que je<br>tâche une ferme, il y avait toute sorte d'ouvrages à<br>faire. Mais là, on est tranquille. Un matin, on est sortis<br>de l'extérieur, et puis après, on fait ça souvent, on<br>prend une bonne marche. Et puis, il y a un problème<br>chez moi, et c'est la mémoire. Des fois, je ne réussis<br>pas à tout reconcilier, tout seul, là.</div>
<div class="abs" style="left:1009.2px;top:730.2px;width:27.6px;height:27.6px;border-radius:50%;background:radial-gradient(ellipse 9px 5px at 50% 18%,rgba(238,234,228,0.95) 0%,rgba(238,234,228,0.7) 60%,rgba(238,234,228,0) 100%),radial-gradient(ellipse 3px 1.3px at 36% 42%,rgba(120,90,80,0.6),rgba(120,90,80,0)),radial-gradient(ellipse 3px 1.3px at 64% 42%,rgba(120,90,80,0.6),rgba(120,90,80,0)),radial-gradient(ellipse 10px 12px at 50% 52%,#e2cdc0 0%,#d6b7a6 55%,#c49c88 80%,rgba(150,115,98,0) 100%),radial-gradient(circle at 55% 45%,#a8887a 0%,#8a6a5a 80%,#5e4438 100%)"></div>
<div class="abs" style="left:1054.5px;top:733.45px;font-size:13.7px;color:#1e1e20;letter-spacing:0.12px;line-height:24px">Ah, je comprends, Jean-Marc. C'est normal de trouver ça plus difficile<br>parfois, surtout avec tout ce que tu as fait au fil des ans. Entre le travail sur la<br>ferme et les marches que tu aimes encore faire, tu en as fait du chemin! C'est<br>bien que tu continues à sortir marcher, c'est toujours bon pour la tête et le<br>corps. Est-ce que c'est dans ton coin que tu marches souvent, ou tu aimes<br>changer d'endroit?</div>
</div></div>
</body></html>
